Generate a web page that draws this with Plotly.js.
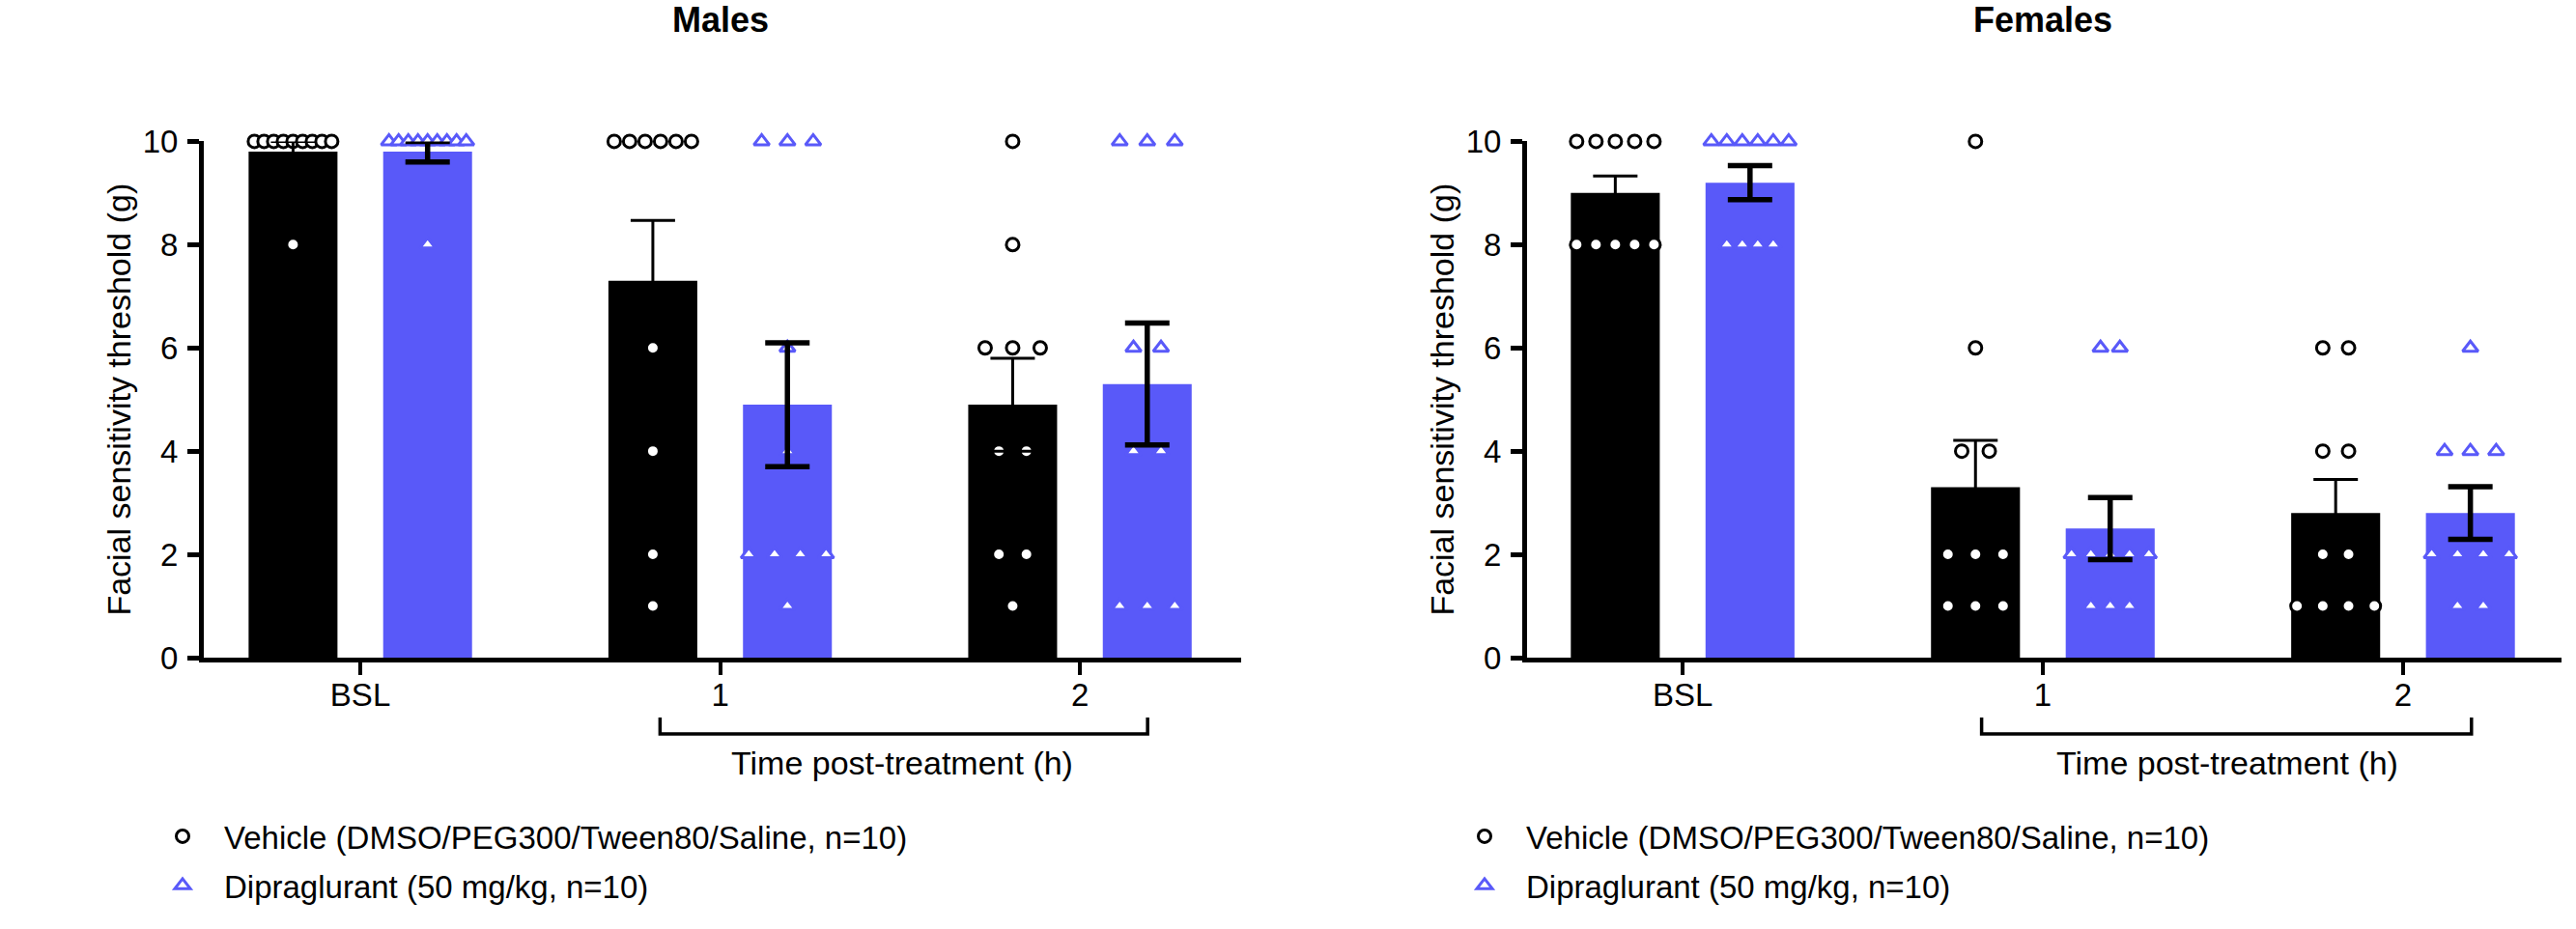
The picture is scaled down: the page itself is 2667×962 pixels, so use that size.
<!DOCTYPE html>
<html>
<head>
<meta charset="utf-8">
<script src="https://cdn.plot.ly/plotly-3.0.1.min.js"></script>
<style>html,body{margin:0;padding:0;background:#fff;}#chart{width:2667px;height:962px;}</style>
</head>
<body>
<div id="chart"></div>
<script>
// ---------- data ----------
const categories = ['BSL', '1', '2'];
const vehicleName = 'Vehicle (DMSO/PEG300/Tween80/Saline, n=10)';
const dipName = 'Dipraglurant (50 mg/kg, n=10)';

const maleVehicleMean = [9.8, 7.3, 4.9];
const maleVehicleSem  = [0.2, 1.17, 0.9];
const maleDipMean     = [9.8, 4.9, 5.3];
const maleDipSem      = [0.2, 1.2, 1.18];

const femaleVehicleMean = [9.0, 3.3, 2.8];
const femaleVehicleSem  = [0.33, 0.91, 0.65];
const femaleDipMean     = [9.2, 2.5, 2.8];
const femaleDipSem      = [0.33, 0.6, 0.51];

const maleVehiclePoints = [
  [10, 10, 10, 10, 10, 10, 10, 10, 10, 8],
  [10, 10, 10, 10, 10, 10, 6, 4, 2, 1],
  [10, 8, 6, 6, 6, 4, 4, 2, 2, 1]
];
const maleDipPoints = [
  [10, 10, 10, 10, 10, 10, 10, 10, 10, 8],
  [10, 10, 10, 6, 4, 2, 2, 2, 2, 1],
  [10, 10, 10, 6, 6, 4, 4, 1, 1, 1]
];
const femaleVehiclePoints = [
  [10, 10, 10, 10, 10, 8, 8, 8, 8, 8],
  [10, 6, 4, 4, 2, 2, 2, 1, 1, 1],
  [6, 6, 4, 4, 2, 2, 1, 1, 1, 1]
];
const femaleDipPoints = [
  [10, 10, 10, 10, 10, 10, 8, 8, 8, 8],
  [6, 6, 2, 2, 2, 2, 2, 1, 1, 1],
  [6, 4, 4, 4, 2, 2, 2, 2, 1, 1]
];

// ---------- styling ----------
const BLUE = '#5959F9';
const FONT = '"Liberation Sans", Arial, Helvetica, sans-serif';
const H = 962, W = 2667;
const PX_PER_UNIT = 372.5;
const GROUP_OFF = 0.187;
const BAR_W = 0.247;
const catIdx = categories.map((c, i) => i);

// horizontal spreading of equal values (scatter-dot layout)
function spread(pointsByCat, side) {
  const xs = [], ys = [];
  pointsByCat.forEach((vals, ci) => {
    const counts = {};
    vals.forEach(v => { counts[v] = (counts[v] || 0) + 1; });
    const maxN = Math.max(...Object.values(counts));
    const spPx = maxN > 1 ? Math.min(28.5, 80 / (maxN - 1)) : 0;
    const sp = spPx / PX_PER_UNIT;
    const seen = {};
    vals.forEach(v => {
      const n = counts[v];
      const k = seen[v] || 0;
      seen[v] = k + 1;
      xs.push(ci + side * GROUP_OFF + (k - (n - 1) / 2) * sp);
      ys.push(v);
    });
  });
  return {x: xs, y: ys};
}

function panel(vm, vs, dm, ds, vp, dp, xa, ya, legendId, grp) {
  const tr = [];
  tr.push({type: 'bar', x: catIdx, y: vm, width: BAR_W, offset: -GROUP_OFF - BAR_W / 2,
    marker: {color: '#000000', line: {width: 0}}, xaxis: xa, yaxis: ya, showlegend: false, hoverinfo: 'skip'});
  tr.push({type: 'bar', x: catIdx, y: dm, width: BAR_W, offset: GROUP_OFF - BAR_W / 2,
    marker: {color: BLUE, line: {width: 0}}, xaxis: xa, yaxis: ya, showlegend: false, hoverinfo: 'skip'});
  const v = spread(vp, -1), d = spread(dp, 1);
  tr.push({type: 'scatter', mode: 'markers', x: v.x, y: v.y, name: vehicleName, legend: legendId,
    legendgroup: grp + 'v', cliponaxis: false,
    marker: {symbol: 'circle', size: 13, color: '#ffffff', line: {color: '#000000', width: 3}},
    xaxis: xa, yaxis: ya});
  tr.push({type: 'scatter', mode: 'markers', x: d.x, y: d.y, name: dipName, legend: legendId,
    legendgroup: grp + 'd', cliponaxis: false,
    marker: {symbol: 'triangle-up', size: 14, color: '#ffffff', line: {color: BLUE, width: 3}},
    xaxis: xa, yaxis: ya});
  tr.push({type: 'scatter', mode: 'markers', x: catIdx.map(i => i - GROUP_OFF), y: vm,
    marker: {size: 1, color: 'rgba(0,0,0,0)'}, cliponaxis: false, showlegend: false, hoverinfo: 'skip',
    error_y: {type: 'data', array: vs, visible: true, color: '#000000', thickness: 3, width: 23},
    xaxis: xa, yaxis: ya});
  tr.push({type: 'scatter', mode: 'markers', x: catIdx.map(i => i + GROUP_OFF), y: dm,
    marker: {size: 1, color: 'rgba(0,0,0,0)'}, cliponaxis: false, showlegend: false, hoverinfo: 'skip',
    error_y: {type: 'data', array: ds, visible: true, color: '#000000', thickness: 5.5, width: 23},
    xaxis: xa, yaxis: ya});
  return tr;
}

const data = [].concat(
  panel(maleVehicleMean, maleVehicleSem, maleDipMean, maleDipSem, maleVehiclePoints, maleDipPoints, 'x', 'y', 'legend', 'm'),
  panel(femaleVehicleMean, femaleVehicleSem, femaleDipMean, femaleDipSem, femaleVehiclePoints, femaleDipPoints, 'x2', 'y2', 'legend2', 'f')
);

const yTop = 146.4, yBot = 681;
const ydom = [(H - yBot) / H, (H - yTop) / H];

function xAxis(domPx, range) {
  return {domain: [domPx[0] / W, domPx[1] / W], range: range, showgrid: false, zeroline: false,
    showline: true, linewidth: 5, linecolor: '#000', ticks: 'outside', ticklen: 13, tickwidth: 4,
    tickcolor: '#000', tickvals: catIdx, ticktext: categories, ticklabelstandoff: -8,
    tickfont: {family: FONT, size: 33, color: '#000'}, fixedrange: true, automargin: false};
}
function yAxis(anchor) {
  return {domain: ydom, range: [0, 10], anchor: anchor, showgrid: false, zeroline: false,
    showline: true, linewidth: 5, linecolor: '#000', ticks: 'outside', ticklen: 12, tickwidth: 5,
    tickcolor: '#000', tickvals: [0, 2, 4, 6, 8, 10], ticklabelstandoff: 3,
    tickfont: {family: FONT, size: 33, color: '#000'},
    title: {text: 'Facial sensitivity threshold (g)', font: {family: FONT, size: 34, color: '#000'}, standoff: 3},
    fixedrange: true, automargin: false};
}

function bracket(xa, x0, x1) {
  const yl = (H - 760) / H, yt = (H - 743) / H;
  return {type: 'path', xref: xa, yref: 'paper',
    path: 'M' + x0 + ',' + yt + ' L' + x0 + ',' + yl + ' L' + x1 + ',' + yl + ' L' + x1 + ',' + yt,
    line: {color: '#000', width: 3.5}};
}

const legendBase = {xanchor: 'left', y: (H - 838) / H, yanchor: 'top', orientation: 'v',
  font: {family: FONT, size: 33, color: '#000'}, itemwidth: 76, itemsizing: 'trace',
  bgcolor: 'rgba(0,0,0,0)', borderwidth: 0, tracegroupgap: 5, traceorder: 'grouped'};

const layout = {
  width: W, height: H,
  margin: {l: 0, r: 0, t: 0, b: 0},
  paper_bgcolor: '#fff', plot_bgcolor: 'rgba(0,0,0,0)',
  font: {family: FONT, color: '#000'},
  barmode: 'overlay',
  xaxis: Object.assign(xAxis([211, 1285], [-0.435, 2.448]), {anchor: 'y'}),
  yaxis: yAxis('x'),
  xaxis2: Object.assign(xAxis([1581, 2652], [-0.432, 2.44]), {anchor: 'y2'}),
  yaxis2: yAxis('x2'),
  shapes: [bracket('x', 1 - 0.167, 2 + 0.188), bracket('x2', 1 - 0.17, 2 + 0.19)],
  annotations: [
    {text: '<b>Males</b>', xref: 'paper', yref: 'paper', x: 746 / W, y: (H - 20) / H,
      xanchor: 'center', yanchor: 'middle', showarrow: false, font: {family: FONT, size: 36, color: '#000'}},
    {text: '<b>Females</b>', xref: 'paper', yref: 'paper', x: 2115 / W, y: (H - 20) / H,
      xanchor: 'center', yanchor: 'middle', showarrow: false, font: {family: FONT, size: 36, color: '#000'}},
    {text: 'Time post-treatment (h)', xref: 'paper', yref: 'paper', x: 934 / W, y: (H - 790) / H,
      xanchor: 'center', yanchor: 'middle', showarrow: false, font: {family: FONT, size: 34, color: '#000'}},
    {text: 'Time post-treatment (h)', xref: 'paper', yref: 'paper', x: 2306 / W, y: (H - 790) / H,
      xanchor: 'center', yanchor: 'middle', showarrow: false, font: {family: FONT, size: 34, color: '#000'}}
  ],
  legend: Object.assign({x: 146 / W}, legendBase),
  legend2: Object.assign({x: 1494 / W}, legendBase),
  showlegend: true
};

Plotly.newPlot('chart', data, layout, {displayModeBar: false, staticPlot: true});
</script>
</body>
</html>
